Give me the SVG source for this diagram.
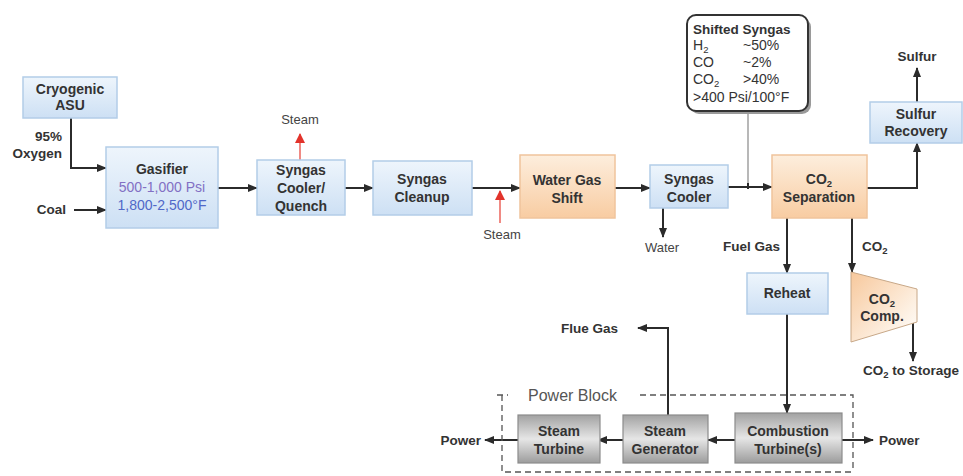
<svg xmlns="http://www.w3.org/2000/svg" width="963" height="476" viewBox="0 0 963 476">
<defs>
<linearGradient id="gBlue" x1="0" y1="0" x2="0" y2="1"><stop offset="0" stop-color="#eef5fc"/><stop offset="1" stop-color="#cde0f4"/></linearGradient>
<linearGradient id="gOrange" x1="0" y1="0" x2="0" y2="1"><stop offset="0" stop-color="#fdeedd"/><stop offset="1" stop-color="#f8cca2"/></linearGradient>
<linearGradient id="gOrangeH" x1="0" y1="0" x2="1" y2="1"><stop offset="0" stop-color="#f7c89c"/><stop offset="0.7" stop-color="#fdf0e2"/><stop offset="1" stop-color="#ffffff"/></linearGradient>
<linearGradient id="gGray" x1="0" y1="0" x2="0" y2="1"><stop offset="0" stop-color="#a2a2a2"/><stop offset="0.5" stop-color="#e6e6e6"/><stop offset="1" stop-color="#9c9c9c"/></linearGradient>
<marker id="ah" viewBox="0 0 10 10" refX="9" refY="5" markerWidth="5" markerHeight="5" orient="auto" markerUnits="strokeWidth"><path d="M0,1 L10,5 L0,9 z" fill="#2b2b2b"/></marker>
<marker id="ahr" viewBox="0 0 10 10" refX="9" refY="5" markerWidth="5" markerHeight="5" orient="auto" markerUnits="strokeWidth"><path d="M0,0 L10,5 L0,10 z" fill="#e2332b"/></marker>
<style>
.blue{fill:url(#gBlue);stroke:#b3cde8;stroke-width:1.5}
.orange{fill:url(#gOrange);stroke:#f0c49c;stroke-width:1.5}
.gray{fill:url(#gGray);stroke:#8c8c8c;stroke-width:1.2}
.t{font-family:"Liberation Sans",Arial,sans-serif;font-size:14px;font-weight:bold;fill:#333;text-anchor:middle}
.r{font-family:"Liberation Sans",Arial,sans-serif;font-size:14px;fill:#333}
.lbl{font-family:"Liberation Sans",Arial,sans-serif;font-size:13.5px;font-weight:bold;fill:#333}
.reg{font-family:"Liberation Sans",Arial,sans-serif;font-size:13px;fill:#444;text-anchor:middle}
.ln{fill:none;stroke:#2b2b2b;stroke-width:2}
.arr{marker-end:url(#ah)}
.red{fill:none;stroke:#f08a84;stroke-width:2;marker-end:url(#ahr)}
</style>
</defs>
<rect width="963" height="476" fill="#ffffff"/>

<g id="connectors">
<path class="ln arr" d="M71,118 V168 H106"/>
<path class="ln arr" d="M74,210 H106"/>
<path class="ln arr" d="M218,188 H257"/>
<path class="ln arr" d="M345,188 H373"/>
<path class="ln arr" d="M472,188 H520"/>
<path class="red" d="M500,223 V191"/>
<path class="red" d="M300,160 V134"/>
<path class="ln arr" d="M615,188 H650"/>
<path class="ln arr" d="M663,208 V237"/>
<path class="ln arr" d="M728,187 H772"/>
<path fill="none" stroke="#b8b8b8" stroke-width="2" d="M748,113 V185"/>
<path class="ln" d="M748,183 V189"/>
<path class="ln arr" d="M867,188 H917 V143"/>
<path class="ln arr" d="M917,102 V68"/>
<path class="ln arr" d="M787,218 V273"/>
<path class="ln arr" d="M852,218 V272"/>
<path class="ln arr" d="M787,314 V413"/>
<path class="ln arr" d="M735,440 H708"/>
<path class="ln arr" d="M623,440 H598"/>
<path class="ln arr" d="M518,440 H485"/>
<path class="ln arr" d="M842,440 H873"/>
<path class="ln arr" d="M668,415 V328 H638"/>
<path class="ln arr" d="M913,322 V361"/>
</g>

<g id="labels">
<text class="lbl" x="62" y="141" text-anchor="end">95%</text>
<text class="lbl" x="62" y="158" text-anchor="end">Oxygen</text>
<text class="lbl" x="66" y="214" text-anchor="end">Coal</text>
<text class="reg" x="300" y="124">Steam</text>
<text class="reg" x="502" y="239">Steam</text>
<text class="reg" x="662" y="252">Water</text>
<text class="lbl" x="917" y="61" text-anchor="middle">Sulfur</text>
<text class="lbl" x="780" y="251" text-anchor="end">Fuel Gas</text>
<text class="lbl" x="862" y="251">CO<tspan font-size="9.5" dy="3">2</tspan></text>
<text class="lbl" x="863" y="375">CO<tspan font-size="9.5" dy="3">2</tspan><tspan dy="-3"> to Storage</tspan></text>
<text class="lbl" x="618" y="333" text-anchor="end">Flue Gas</text>
<text class="lbl" x="481" y="445" text-anchor="end">Power</text>
<text class="lbl" x="879" y="445">Power</text>
</g>

<g id="power-block">
<path fill="none" stroke="#555" stroke-width="1.3" stroke-dasharray="6,4" d="M497,395 H508 M640,395 H853 V472 M502,395 V472 H853"/>
<text x="528" y="401" font-family="'Liberation Sans',Arial,sans-serif" font-size="16" fill="#555">Power Block</text>
</g>

<g id="cryogenic-asu">
<rect class="blue" x="23" y="77" width="94" height="41"/>
<text class="t" x="70" y="93.5">Cryogenic</text>
<text class="t" x="70" y="109.5">ASU</text>
</g>

<g id="gasifier">
<rect class="blue" x="106" y="147" width="112" height="81"/>
<text class="t" x="162" y="173.5">Gasifier</text>
<text x="162" y="191.5" font-family="'Liberation Sans',Arial,sans-serif" font-size="14" fill="#8270c4" text-anchor="middle">500-1,000 Psi</text>
<text x="162" y="209.5" font-family="'Liberation Sans',Arial,sans-serif" font-size="14" fill="#5068c8" text-anchor="middle">1,800-2,500°F</text>
</g>

<g id="syngas-cooler-quench">
<rect class="blue" x="257" y="160" width="88" height="55"/>
<text class="t" x="301" y="174.5">Syngas</text>
<text class="t" x="301" y="192.5">Cooler/</text>
<text class="t" x="301" y="210.5">Quench</text>
</g>

<g id="syngas-cleanup">
<rect class="blue" x="373" y="161" width="99" height="54"/>
<text class="t" x="422" y="183.5">Syngas</text>
<text class="t" x="422" y="201.5">Cleanup</text>
</g>

<g id="water-gas-shift">
<rect class="orange" x="520" y="155" width="95" height="63"/>
<text class="t" x="567" y="184.5">Water Gas</text>
<text class="t" x="567" y="202.5">Shift</text>
</g>

<g id="syngas-cooler">
<rect class="blue" x="650" y="165" width="78" height="43"/>
<text class="t" x="689" y="183.5">Syngas</text>
<text class="t" x="689" y="201.5">Cooler</text>
</g>

<g id="shifted-syngas">
<rect x="690" y="18" width="121" height="96" rx="9" fill="#9a9a9a"/>
<rect x="687" y="15" width="121" height="96" rx="9" fill="#ffffff" stroke="#333" stroke-width="2"/>
<text class="lbl" x="693" y="34" font-size="14">Shifted Syngas</text>
<text class="r" x="693" y="50">H<tspan font-size="9.5" dy="3">2</tspan></text>
<text class="r" x="743" y="50">~50%</text>
<text class="r" x="693" y="66.5">CO</text>
<text class="r" x="743" y="66.5">~2%</text>
<text class="r" x="693" y="83.5">CO<tspan font-size="9.5" dy="3">2</tspan></text>
<text class="r" x="743" y="83.5">&gt;40%</text>
<text class="r" x="693" y="101.5">&gt;400 Psi/100°F</text>
</g>

<g id="co2-separation">
<rect class="orange" x="772" y="155" width="95" height="63"/>
<text class="t" x="819" y="183.5">CO<tspan font-size="9.5" dy="3">2</tspan></text>
<text class="t" x="819" y="201.5">Separation</text>
</g>

<g id="sulfur-recovery">
<rect class="blue" x="870" y="102" width="92" height="41"/>
<text class="t" x="916" y="118.5">Sulfur</text>
<text class="t" x="916" y="135.5">Recovery</text>
</g>

<g id="reheat">
<rect class="blue" x="747" y="273" width="81" height="41"/>
<text class="t" x="787" y="297.5">Reheat</text>
</g>

<g id="co2-comp">
<path d="M851,272 L917,289 V322 L851,342 Z" fill="url(#gOrangeH)" stroke="#c8a888" stroke-width="1"/>
<text class="t" x="882" y="303.5">CO<tspan font-size="9.5" dy="3">2</tspan></text>
<text class="t" x="882" y="320.5">Comp.</text>
</g>

<g id="steam-turbine">
<rect class="gray" x="518" y="415" width="82" height="48"/>
<text class="t" x="559" y="435.5">Steam</text>
<text class="t" x="559" y="453.5">Turbine</text>
</g>

<g id="steam-generator">
<rect class="gray" x="623" y="415" width="85" height="48"/>
<text class="t" x="665" y="435.5">Steam</text>
<text class="t" x="665" y="453.5">Generator</text>
</g>

<g id="combustion-turbine">
<rect class="gray" x="735" y="413" width="107" height="50"/>
<text class="t" x="788" y="435.5">Combustion</text>
<text class="t" x="788" y="453.5">Turbine(s)</text>
</g>
</svg>
